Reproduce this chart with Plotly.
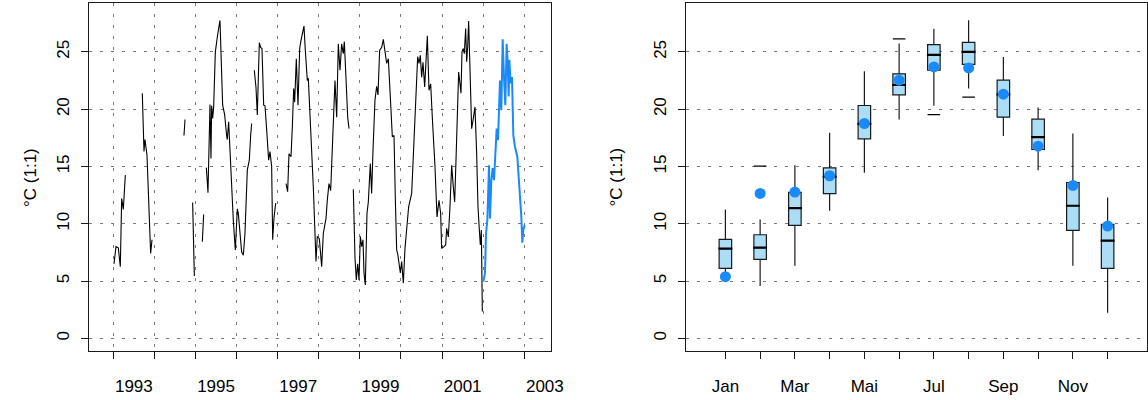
import plotly.graph_objects as go

# ---------------- time series (decimal year, degC) ----------------
seg_years = [
    [1993.017, 1993.066, 1993.122, 1993.171, 1993.204, 1993.244, 1993.293],
    [1993.706, 1993.747, 1993.771, 1993.82, 1993.909, 1993.942],
    [1994.72, 1994.745],
    [1994.931, 1994.972],
    [1995.166, 1995.199],
    [1995.264, 1995.304, 1995.353, 1995.377, 1995.393, 1995.418, 1995.442, 1995.483,
     1995.539, 1995.596, 1995.661, 1995.71, 1995.758, 1995.774, 1995.807, 1995.823,
     1995.88, 1995.92, 1995.969, 1996.018, 1996.042, 1996.083, 1996.123, 1996.164,
     1996.204, 1996.261, 1996.31, 1996.342, 1996.367],
    [1996.431, 1996.472, 1996.504, 1996.553, 1996.586, 1996.618, 1996.659, 1996.691,
     1996.732, 1996.78, 1996.813, 1996.853, 1996.878, 1996.91, 1996.951],
    [1997.202, 1997.242, 1997.275, 1997.324, 1997.356, 1997.389, 1997.413, 1997.453,
     1997.494, 1997.535, 1997.567, 1997.599, 1997.64, 1997.672, 1997.721, 1997.745,
     1997.802, 1997.867, 1997.932, 1997.964, 1998.013, 1998.07, 1998.11, 1998.175,
     1998.207, 1998.248, 1998.289, 1998.329, 1998.394, 1998.435, 1998.475, 1998.516,
     1998.556, 1998.597, 1998.621, 1998.662, 1998.702, 1998.735],
    [1998.84, 1998.881, 1998.913, 1998.946, 1998.978, 1999.011, 1999.043, 1999.075,
     1999.1, 1999.132, 1999.173, 1999.205, 1999.254, 1999.286, 1999.319, 1999.367,
     1999.408, 1999.44, 1999.481, 1999.53, 1999.57, 1999.611, 1999.651, 1999.692,
     1999.716, 1999.757, 1999.789, 1999.83, 1999.862, 1999.895, 1999.919, 1999.951,
     1999.984, 2000.016, 2000.057, 2000.097, 2000.146, 2000.187, 2000.26, 2000.316,
     2000.357, 2000.406, 2000.438, 2000.47, 2000.503, 2000.535, 2000.576, 2000.608,
     2000.641, 2000.681, 2000.722, 2000.762, 2000.803, 2000.827, 2000.876, 2000.925,
     2000.965, 2000.989, 2001.046, 2001.087, 2001.111, 2001.152, 2001.192, 2001.233,
     2001.273, 2001.306, 2001.338, 2001.371, 2001.403, 2001.436, 2001.46, 2001.484,
     2001.517, 2001.541, 2001.573, 2001.598, 2001.622, 2001.646, 2001.679, 2001.719,
     2001.76, 2001.8, 2001.841, 2001.873, 2001.906, 2001.93, 2001.955, 2001.979],
]
seg_temps = [
    [6.5, 8.0, 7.9, 6.25, 12.2, 11.25, 14.25],
    [21.4, 16.3, 17.35, 16.0, 7.4, 8.6],
    [17.7, 19.1],
    [11.86, 5.44],
    [8.43, 10.8],
    [14.9, 12.7, 20.4, 15.7, 20.3, 19.2, 20.2, 25.0,
     26.5, 27.75, 20.35, 19.5, 17.7, 17.35, 18.9, 17.6,
     12.35, 10.3, 7.7, 11.3, 10.9, 8.9, 7.55, 7.25,
     9.15, 14.7, 15.55, 17.7, 18.75],
    [23.4, 21.9, 19.5, 25.8, 25.4, 25.3, 20.35, 20.3,
     18.2, 15.55, 16.3, 15.0, 8.6, 10.5, 11.8],
    [13.5, 12.8, 16.1, 15.85, 18.45, 21.8, 20.6, 24.4,
     20.35, 25.3, 26.0, 26.6, 27.25, 25.15, 22.5, 22.7,
     18.45, 13.2, 6.7, 8.9, 8.7, 6.25, 9.15, 10.45,
     12.05, 13.5, 12.9, 16.7, 22.5, 19.3, 25.7, 23.4,
     25.7, 24.85, 25.9, 22.7, 19.35, 18.3],
    [13.0, 7.0, 5.1, 6.5, 5.1, 8.9, 8.0, 8.6,
     5.7, 4.65, 10.9, 11.9, 15.25, 12.65, 16.4, 20.8,
     22.0, 21.25, 25.15, 25.4, 26.1, 24.85, 24.0, 24.4,
     22.2, 19.9, 17.6, 17.7, 12.2, 7.7, 7.4, 6.55,
     5.7, 6.7, 4.8, 7.85, 10.0, 11.5, 12.65, 17.0,
     20.5, 24.6, 24.0, 24.7, 22.8, 24.1, 21.95, 24.85,
     26.4, 21.65, 22.2, 19.3, 16.6, 15.0, 10.6, 12.05,
     10.9, 7.85, 8.0, 8.15, 9.6, 8.85, 11.5, 15.1,
     13.2, 11.9, 15.55, 19.35, 23.25, 22.2, 21.4, 25.0,
     25.3, 24.85, 27.05, 24.15, 25.4, 27.7, 22.2, 18.3,
     19.2, 20.2, 16.1, 11.5, 9.45, 8.15, 9.45, 2.33],
]

# current year (2002)
cur_years = [2002.003, 2002.044, 2002.068, 2002.101, 2002.141, 2002.165, 2002.198,
             2002.23, 2002.263, 2002.295, 2002.328, 2002.36, 2002.384, 2002.409,
             2002.441, 2002.474, 2002.506, 2002.538, 2002.571, 2002.595, 2002.62,
             2002.636, 2002.668, 2002.701, 2002.733, 2002.774, 2002.83, 2002.871,
             2002.895, 2002.928, 2002.952, 2002.976, 2003.009]
cur_temps = [4.95, 5.7, 9.15, 10.3, 15.1, 10.45, 13.8, 14.85, 13.8, 16.7, 18.3,
             17.3, 19.45, 22.5, 19.9, 26.1, 22.8, 20.35, 25.7, 24.15, 21.1,
             24.3, 22.25, 22.8, 17.7, 16.7, 15.85, 13.4, 12.95, 10.6, 8.35,
             9.45, 9.9]

year_ticks = list(range(1993, 2004))
year_labels = ["1993", "1995", "1997", "1999", "2001", "2003"]

# ---------------- monthly statistics ----------------
months = list(range(1, 13))
month_names = ["Jan", "Feb", "Mar", "Apr", "Mai", "Jun",
               "Jul", "Aug", "Sep", "Okt", "Nov", "Dez"]
whisker_low = [5.0, 4.56, 6.34, 11.13, 14.45, 19.1, 20.29, 21.8, 17.67, 14.68, 6.34, 2.24]
quart_1 = [6.1, 6.89, 9.85, 12.62, 17.41, 21.25, 23.4, 23.92, 19.3, 16.48, 9.42, 6.1]
medians = [7.82, 7.91, 11.37, 14.1, 18.72, 22.12, 24.74, 25.0, 21.28, 17.56, 11.57, 8.52]
quart_3 = [8.63, 9.04, 12.73, 14.88, 20.32, 23.08, 25.64, 25.84, 22.53, 19.13, 13.6, 9.94]
whisker_high = [11.25, 10.38, 15.1, 17.94, 23.31, 25.73, 27.03, 27.76, 24.56, 20.15, 17.88, 12.3]
outlier_months = [2, 6, 7, 8]
outlier_temps = [15.03, 26.13, 19.53, 21.05]
cur_month_means = [5.38, 12.65, 12.76, 14.19, 18.75, 22.53, 23.69, 23.6, 21.31, 16.77, 13.34, 9.8]

y_ticks = [0, 5, 10, 15, 20, 25]

# ---------------- styling ----------------
FONT = "Liberation Sans, Arial, Helvetica, sans-serif"
BLUE = "#1A8AFA"
BOX_FILL = "#ABDDF7"
GRID = "#7a7a72"
GRID_DASH = "3px,8px"
BOX_W = 0.36
MED_HALF = 0.2

fig = go.Figure()

# historical series with gaps between segments
hx, hy = [], []
for ys, ts in zip(seg_years, seg_temps):
    hx += list(ys) + [None]
    hy += list(ts) + [None]
fig.add_trace(go.Scatter(x=hx, y=hy, mode="lines", connectgaps=False,
                         line=dict(color="black", width=1.1),
                         xaxis="x", yaxis="y", showlegend=False))
fig.add_trace(go.Scatter(x=cur_years, y=cur_temps, mode="lines",
                         line=dict(color=BLUE, width=2),
                         xaxis="x", yaxis="y", showlegend=False))

# monthly boxes
fig.add_trace(go.Box(x=months, q1=quart_1, median=medians, q3=quart_3,
                     lowerfence=whisker_low, upperfence=whisker_high,
                     width=BOX_W, whiskerwidth=0, boxpoints=False,
                     fillcolor=BOX_FILL, line=dict(color="#1a1a1a", width=1.2),
                     xaxis="x2", yaxis="y2", showlegend=False))
mx, my = [], []
for m, med in zip(months, medians):
    mx += [m - MED_HALF, m + MED_HALF, None]
    my += [med, med, None]
fig.add_trace(go.Scatter(x=mx, y=my, mode="lines", line=dict(color="black", width=2.2),
                         xaxis="x2", yaxis="y2", showlegend=False))
fig.add_trace(go.Scatter(x=outlier_months, y=outlier_temps, mode="markers",
                         marker=dict(symbol="line-ew", size=9,
                                     line=dict(color="black", width=1.3)),
                         xaxis="x2", yaxis="y2", showlegend=False))
fig.add_trace(go.Scatter(x=months, y=cur_month_means, mode="markers",
                         marker=dict(color=BLUE, size=11, line=dict(width=0)),
                         xaxis="x2", yaxis="y2", showlegend=False))

W, H = 1148, 400
left_dom = [89.2 / W, 551.3 / W]
right_dom = [685.6 / W, 1147.4 / W]
y_dom = [49 / H, 397 / H]
y_range = [-1.11, 29.27]

frame = dict(showline=True, linecolor="#1a1a1a", linewidth=1, mirror=True,
             zeroline=False, automargin=False, fixedrange=True)
tickfont = dict(family=FONT, size=17, color="black")

yaxis_common = dict(range=y_range, domain=y_dom, tickvals=y_ticks,
                    ticktext=[str(v) for v in y_ticks], tickangle=-90,
                    ticks="outside", ticklen=7, tickcolor="#1a1a1a", tickwidth=1,
                    ticklabelstandoff=5, tickfont=tickfont,
                    showgrid=True, gridcolor=GRID, griddash=GRID_DASH, gridwidth=1,
                    **frame)

fig.update_layout(
    width=W, height=H,
    margin=dict(l=0, r=0, t=0, b=0),
    paper_bgcolor="white", plot_bgcolor="white",
    font=dict(family=FONT, size=17, color="black"),
    xaxis=dict(domain=left_dom, range=[1992.414, 2003.657], anchor="y",
               tickvals=[y + 0.5 for y in range(1993, 2004, 2)], ticktext=year_labels,
               ticks="", showgrid=False, tickfont=tickfont, ticklabelstandoff=20,
               minor=dict(tickvals=year_ticks, ticks="outside", ticklen=7,
                          tickcolor="#1a1a1a", tickwidth=1,
                          showgrid=True, gridcolor=GRID, griddash=GRID_DASH, gridwidth=1),
               **frame),
    yaxis=dict(anchor="x", **yaxis_common),
    xaxis2=dict(domain=right_dom, range=[-0.145, 13.145], anchor="y2",
                tickvals=months,
                ticktext=[n if i % 2 == 0 else "" for i, n in enumerate(month_names)],
                ticks="outside", ticklen=7, tickcolor="#1a1a1a", tickwidth=1,
                ticklabelstandoff=13, tickfont=tickfont, showgrid=False, **frame),
    yaxis2=dict(anchor="x2", **yaxis_common),
    annotations=[
        dict(text="°C (1:1)", textangle=-90, x=19 / W, y=(400 - 177.5) / H,
             xref="paper", yref="paper", showarrow=False,
             font=dict(family=FONT, size=17, color="black")),
        dict(text="°C (1:1)", textangle=-90, x=616 / W, y=(400 - 177.5) / H,
             xref="paper", yref="paper", showarrow=False,
             font=dict(family=FONT, size=17, color="black")),
    ],
)

fig.write_html("out.html")
